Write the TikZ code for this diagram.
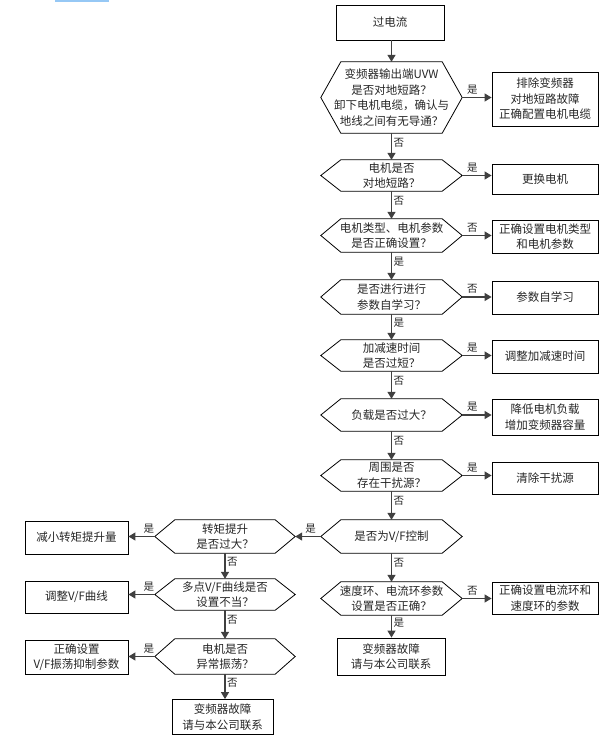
\documentclass[tikz,border=0pt]{standalone}
\usepackage{fontspec}
\setmainfont{Noto Sans CJK SC}
\usetikzlibrary{arrows.meta,calc}
\newcommand{\myhex}[1]{\draw[hexline] (#1.west) -- ([xshift=20pt]#1.north west) -- ([xshift=-20pt]#1.north east) -- (#1.east) -- ([xshift=-20pt]#1.south east) -- ([xshift=20pt]#1.south west) -- cycle;}
\begin{document}
\begin{tikzpicture}[x=1pt,y=-1pt,
  every node/.style={font=\fontsize{11.5pt}{15.5pt}\selectfont, text=black!85},
  hexline/.style={draw=black, line width=0.8pt, line join=miter},
  hexa/.style={inner sep=0pt, minimum width=141pt, minimum height=#1, align=center},
  boxa/.style={draw=black, line width=0.8pt, inner sep=0pt, minimum width=106pt, minimum height=#1, align=center},
  arr/.style={draw=black!75, line width=1.3pt, -{Triangle[length=7pt,width=8pt]}},
  lab/.style={font=\fontsize{10.5pt}{12pt}\selectfont, inner sep=1.5pt}
]
\useasboundingbox (0,0) rectangle (612,740);
\draw[color={rgb,255:red,150;green,200;blue,245}, line width=1.6pt] (55,0.8) -- (109,0.8);

% main column
\node[boxa=35pt, minimum width=108pt] (top) at (390,22.5) {过电流};
\node[hexa=71pt] (H1) at (391.5,97.5) {\fontsize{11.5pt}{17.5pt}\selectfont 变频器输出端UVW\\是否对地短路？\\卸下电机电缆，确认与\\地线之间有无导通？};
\myhex{H1}
\node[hexa=31pt] (H2) at (391.5,175.5) {电机是否\\对地短路？};
\myhex{H2}
\node[hexa=33pt] (H3) at (391.5,235.5) {电机类型、电机参数\\是否正确设置？};
\myhex{H3}
\node[hexa=34pt] (H4) at (391.5,297) {是否进行进行\\参数自学习？};
\myhex{H4}
\node[hexa=31pt] (H5) at (391.5,355.5) {加减速时间\\是否过短？};
\myhex{H5}
\node[hexa=32pt] (H6) at (391.5,415) {负载是否过大？};
\myhex{H6}
\node[hexa=31pt] (H7) at (391.5,475.5) {周围是否\\存在干扰源？};
\myhex{H7}
\node[hexa=33pt] (H8) at (391.5,536.5) {是否为V/F控制};
\myhex{H8}
\node[hexa=33pt] (H9) at (391.5,598.5) {速度环、电流环参数\\设置是否正确？};
\myhex{H9}
\node[boxa=37pt, minimum width=108pt] (MF) at (391,656.5) {变频器故障\\请与本公司联系};

% right boxes
\node[boxa=54pt] (B1) at (545,99) {排除变频器\\对地短路故障\\正确配置电机电缆};
\node[boxa=30pt] (B2) at (545,179) {更换电机};
\node[boxa=33pt] (B3) at (545,236.5) {正确设置电机类型\\和电机参数};
\node[boxa=33pt] (B4) at (545,297.5) {参数自学习};
\node[boxa=33pt] (B5) at (545,356.5) {调整加减速时间};
\node[boxa=36pt] (B6) at (545,417) {降低电机负载\\增加变频器容量};
\node[boxa=32pt] (B7) at (545,478) {清除干扰源};
\node[boxa=32pt] (B9) at (545,598) {正确设置电流环和\\速度环的参数};

% left column
\node[hexa=33pt, minimum width=140pt] (L1) at (225,536.5) {转矩提升\\是否过大？};
\myhex{L1}
\node[hexa=31pt, minimum width=140pt] (L2) at (225,594.5) {多点V/F曲线是否\\设置不当？};
\myhex{L2}
\node[hexa=35pt, minimum width=140pt] (L3) at (225,656.5) {电机是否\\异常振荡？};
\myhex{L3}
\node[boxa=35pt, minimum width=101pt] (LF) at (222.5,717) {变频器故障\\请与本公司联系};
\node[boxa=33pt, minimum width=103pt] (LB1) at (76.5,537.5) {减小转矩提升量};
\node[boxa=32pt, minimum width=103pt] (LB2) at (76.5,597) {调整V/F曲线};
\node[boxa=34pt, minimum width=103pt] (LB3) at (76.5,657) {正确设置\\V/F振荡抑制参数};

% vertical arrows main
\draw[arr] (H1.north |- top.south) -- (H1.north);
\draw[arr] (H1.south) -- node[lab, right, pos=0.35]{否} (H2.north);
\draw[arr] (H2.south) -- node[lab, right, pos=0.35]{否} (H3.north);
\draw[arr] (H3.south) -- node[lab, right, pos=0.35]{是} (H4.north);
\draw[arr] (H4.south) -- node[lab, right, pos=0.35]{是} (H5.north);
\draw[arr] (H5.south) -- node[lab, right, pos=0.35]{否} (H6.north);
\draw[arr] (H6.south) -- node[lab, right, pos=0.35]{否} (H7.north);
\draw[arr] (H7.south) -- node[lab, right, pos=0.35]{否} (H8.north);
\draw[arr] (H8.south) -- node[lab, right, pos=0.35]{否} (H9.north);
\draw[arr] (H9.south) -- node[lab, right, pos=0.35]{是} (H9.south |- MF.north);

% horizontal arrows main
\draw[arr] (H1.east) -- node[lab, above, pos=0.35, yshift=1.5pt]{是} (B1.west |- H1.east);
\draw[arr] (H2.east) -- node[lab, above, pos=0.35, yshift=1.5pt]{是} (B2.west |- H2.east);
\draw[arr] (H3.east) -- node[lab, above, pos=0.35, yshift=1.5pt]{否} (B3.west |- H3.east);
\draw[arr] (H4.east) -- node[lab, above, pos=0.35, yshift=1.5pt]{否} (B4.west |- H4.east);
\draw[arr] (H5.east) -- node[lab, above, pos=0.35, yshift=1.5pt]{是} (B5.west |- H5.east);
\draw[arr] (H6.east) -- node[lab, above, pos=0.35, yshift=1.5pt]{是} (B6.west |- H6.east);
\draw[arr] (H7.east) -- node[lab, above, pos=0.35, yshift=1.5pt]{是} (B7.west |- H7.east);
\draw[arr] (H9.east) -- node[lab, above, pos=0.35, yshift=1.5pt]{否} (B9.west |- H9.east);
\draw[arr] (H8.west) -- node[lab, above, pos=0.4, yshift=1.5pt]{是} (L1.east);

% left column arrows
\draw[arr] (L1.south) -- node[lab, right, pos=0.35]{否} (L2.north);
\draw[arr] (L2.south) -- node[lab, right, pos=0.35]{否} (L3.north);
\draw[arr] (L3.south) -- node[lab, right, pos=0.35]{否} (L3.south |- LF.north);
\draw[arr] (L1.west) -- node[lab, above, pos=0.22, yshift=1.5pt]{是} (LB1.east |- L1.west);
\draw[arr] (L2.west) -- node[lab, above, pos=0.22, yshift=1.5pt]{是} (LB2.east |- L2.west);
\draw[arr] (L3.west) -- node[lab, above, pos=0.22, yshift=1.5pt]{是} (LB3.east |- L3.west);
\end{tikzpicture}
\end{document}
